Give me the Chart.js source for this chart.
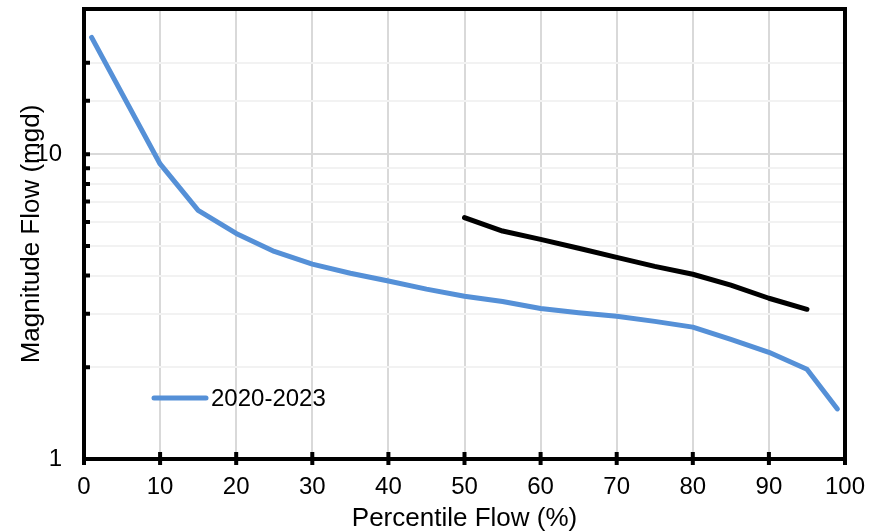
<!DOCTYPE html>
<html>
<head>
<meta charset="utf-8">
<script src="https://cdn.jsdelivr.net/npm/chart.js@4.4.1/dist/chart.umd.min.js"></script>
<style>
  html, body { margin: 0; padding: 0; background: #fff; }
  #wrap { width: 880px; height: 532px; }
</style>
</head>
<body>
<div id="wrap"><canvas id="chart"></canvas></div>
<script>
// Data
var pctBlue  = [1, 10, 15, 20, 25, 30, 35, 40, 45, 50, 55, 60, 65, 70, 75, 80, 85, 90, 95, 99];
var flowBlue = [24.2, 9.3, 6.55, 5.5, 4.8, 4.36, 4.07, 3.84, 3.61, 3.42, 3.29, 3.12, 3.02, 2.94, 2.83, 2.71, 2.47, 2.24, 1.97, 1.46];
var pctBlack  = [50, 55, 60, 65, 70, 75, 80, 85, 90, 95];
var flowBlack = [6.2, 5.6, 5.26, 4.92, 4.59, 4.29, 4.04, 3.72, 3.37, 3.1];
var xTicks = [0, 10, 20, 30, 40, 50, 60, 70, 80, 90, 100];
var yLabels = [1, 10];

var FONT = '"Liberation Sans", Arial, sans-serif';
Chart.defaults.font.family = FONT;
Chart.defaults.color = '#000';

function toPoints(xs, ys) {
    return xs.map((x, i) => ({x: x, y: ys[i]}));
}

// frame around the plot + tick marks (y ticks point inward, x ticks cross the axis)
var framePlugin = {
    id: 'frame',
    afterDatasetsDraw(chart) {
        const ctx = chart.ctx, a = chart.chartArea;
        const xs = chart.scales.x, ys = chart.scales.y;
        ctx.save();
        ctx.strokeStyle = '#000';
        ctx.lineWidth = 4;
        ctx.beginPath();
        ys.ticks.forEach(t => {
            let py = ys.getPixelForValue(t.value);
            ctx.moveTo(a.left, py);
            ctx.lineTo(a.left + 6, py);
        });
        xs.ticks.forEach(t => {
            let px = xs.getPixelForValue(t.value);
            ctx.moveTo(px, a.bottom - 7);
            ctx.lineTo(px, a.bottom + 6);
        });
        ctx.stroke();
        ctx.strokeRect(a.left, a.top, a.right - a.left, a.bottom - a.top);
        ctx.restore();
    }
};

// legend sits inside the plot, only the first series is listed
var legendPlugin = {
    id: 'insideLegend',
    afterDraw(chart) {
        const ctx = chart.ctx;
        const ds = chart.data.datasets[0];
        ctx.save();
        ctx.strokeStyle = ds.borderColor;
        ctx.lineWidth = 5;
        ctx.lineCap = 'round';
        ctx.beginPath();
        ctx.moveTo(154, 398);
        ctx.lineTo(206, 398);
        ctx.stroke();
        ctx.fillStyle = '#000';
        ctx.font = '24px ' + FONT;
        ctx.textBaseline = 'middle';
        ctx.fillText(ds.label, 211, 399);
        ctx.restore();
    }
};

const myChart = new Chart(document.getElementById('chart').getContext('2d'), {
    type: 'line',
    data: {
        datasets: [{
            label: '2020-2023',
            data: toPoints(pctBlue, flowBlue),
            borderColor: '#5590d7',
            borderWidth: 5,
            pointRadius: 0,
            borderCapStyle: 'round',
            borderJoinStyle: 'round',
            tension: 0
        }, {
            label: 'other',
            data: toPoints(pctBlack, flowBlack),
            borderColor: '#000',
            borderWidth: 5,
            pointRadius: 0,
            borderCapStyle: 'round',
            borderJoinStyle: 'round',
            tension: 0
        }]
    },
    options: {
        responsive: true,
        maintainAspectRatio: false,
        animation: false,
        layout: { padding: { top: 9, right: 35 } },
        plugins: { legend: false, tooltip: { enabled: false } },
        scales: {
            x: {
                type: 'linear',
                min: 0, max: 100,
                afterBuildTicks: s => { s.ticks = xTicks.map(v => ({value: v})); },
                afterFit: s => { s.height = 73; s.paddingLeft = 0; s.paddingRight = 0; },
                ticks: { font: { size: 24 }, padding: 14 },
                grid: { color: '#d9d9d9', lineWidth: 2, drawTicks: false },
                border: { display: false },
                title: { display: true, text: 'Percentile Flow (%)', font: { size: 26, lineHeight: 1 }, padding: { top: 0, bottom: 0 } }
            },
            y: {
                type: 'logarithmic',
                min: 1, max: 30,
                afterFit: s => { s.width = 84; s.paddingTop = 0; s.paddingBottom = 0; },
                ticks: {
                    font: { size: 24 },
                    padding: 22,
                    autoSkip: false,
                    callback: v => yLabels.includes(v) ? String(v) : ''
                },
                grid: {
                    drawTicks: false,
                    lineWidth: 2,
                    color: c => yLabels.includes(c.tick.value) ? '#d9d9d9' : '#f2f2f2'
                },
                border: { display: false },
                title: { display: true, text: 'Magnitude Flow (mgd)', font: { size: 26, lineHeight: 1 }, padding: { top: 19, bottom: 0 } }
            }
        }
    },
    plugins: [framePlugin, legendPlugin]
});
</script>
</body>
</html>
